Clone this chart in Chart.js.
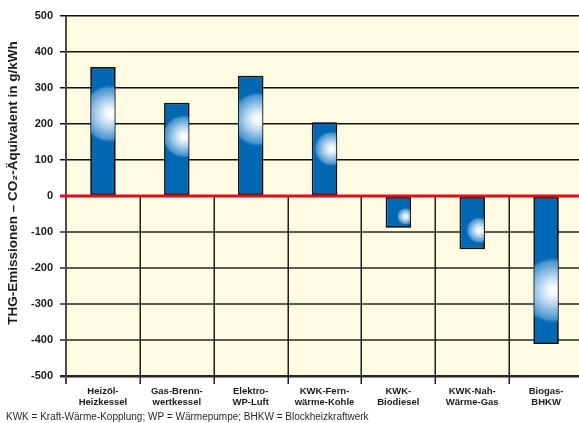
<!DOCTYPE html>
<html lang="de">
<head>
<meta charset="utf-8">
<title>THG-Emissionen verschiedener Heizsysteme</title>
<script src="https://cdn.jsdelivr.net/npm/chart.js@4/dist/chart.umd.min.js"></script>
<style>
  html, body { margin: 0; padding: 0; background: #ffffff; overflow: hidden; }
  #wrap { position: relative; width: 583px; height: 423px; }
</style>
</head>
<body>
<div id="wrap"><canvas id="chart"></canvas></div>
<script>
// Heating systems (two-line category labels)
const categories = [
  ['Heizöl-', 'Heizkessel'],
  ['Gas-Brenn-', 'wertkessel'],
  ['Elektro-', 'WP-Luft'],
  ['KWK-Fern-', 'wärme-Kohle'],
  ['KWK-', 'Biodiesel'],
  ['KWK-Nah-', 'Wärme-Gas'],
  ['Biogas-', 'BHKW']
];

// Greenhouse gas emissions, CO2 equivalent in g/kWh
const emissions = [358, 259, 334, 205, -88, -148, -411];

// Value axis range and step
const yMin = -500;
const yMax = 500;
const yStep = 100;

const axisTitle = 'THG-Emissionen – CO₂-Äquivalent in g/kWh';
const footnote = 'KWK = Kraft-Wärme-Kopplung; WP = Wärmepumpe; BHKW = Blockheizkraftwerk';

const FONT = '"Liberation Sans", Arial, Helvetica, sans-serif';
const BAR_BLUE = '#0067b2';
const PLOT_BG = '#fefbe2';
const ZERO_RED = '#e30a1c';

// Cream plot background and category separators (lower half only)
const plotFrame = {
  id: 'plotFrame',
  beforeDraw(chart) {
    const { ctx, chartArea: a } = chart;
    ctx.save();
    ctx.fillStyle = PLOT_BG;
    ctx.fillRect(a.left, a.top, a.right - a.left, a.bottom - a.top);
    ctx.restore();
  },
  beforeDatasetsDraw(chart) {
    const { ctx, chartArea: a, scales } = chart;
    const xs = scales.x, ys = scales.y;
    const y0 = ys.getPixelForValue(0);
    ctx.save();
    ctx.lineWidth = 1.5;
    ctx.strokeStyle = '#1e1e1e';
    for (let i = 1; i < categories.length; i++) {
      const x = Math.round(xs.getPixelForValue(i - 0.5)) + 0.25;
      ctx.beginPath();
      ctx.moveTo(x, y0);
      ctx.lineTo(x, a.bottom + 8);
      ctx.stroke();
    }
    // left axis line
    ctx.strokeStyle = '#4a4a44';
    ctx.lineWidth = 2;
    const xl = a.left;
    ctx.beginPath();
    ctx.moveTo(xl, a.top);
    ctx.lineTo(xl, a.bottom + 8);
    ctx.stroke();
    ctx.restore();
  }
};

// Drop shadow behind the bars
const barShadow = {
  id: 'barShadow',
  beforeDatasetDraw(chart) {
    const ctx = chart.ctx;
    ctx.save();
    ctx.shadowColor = 'rgba(0,0,0,0.35)';
    ctx.shadowOffsetX = 2;
    ctx.shadowOffsetY = 0;
    ctx.shadowBlur = 1.5;
  },
  afterDatasetDraw(chart) {
    chart.ctx.restore();
  }
};

// Soft radial highlight inside each bar, then the red zero line on top
const barGlow = {
  id: 'barGlow',
  afterDatasetsDraw(chart) {
    const { ctx, chartArea: a, scales } = chart;
    const meta = chart.getDatasetMeta(0);
    meta.data.forEach((bar) => {
      const p = bar.getProps(['x', 'y', 'base', 'width'], true);
      const left = p.x - p.width / 2;
      const top = Math.min(p.y, p.base);
      const len = Math.abs(p.base - p.y);
      const cx = p.x + p.width * 0.28;
      const cy = p.base + (p.y - p.base) * 0.635;
      const r = len * 0.22 + 2;
      ctx.save();
      ctx.beginPath();
      ctx.rect(left + 1, top + 1, p.width - 2, len - 2);
      ctx.clip();
      const g = ctx.createRadialGradient(cx, cy, 0, cx, cy, r);
      g.addColorStop(0, 'rgba(255,255,255,1)');
      g.addColorStop(0.18, 'rgba(236,244,252,1)');
      g.addColorStop(0.5, 'rgba(170,206,236,0.95)');
      g.addColorStop(0.85, 'rgba(90,160,214,0.8)');
      g.addColorStop(1, 'rgba(0,103,178,0)');
      ctx.fillStyle = g;
      ctx.fillRect(cx - r, cy - r, 2 * r, 2 * r);
      ctx.restore();
    });
    // zero line
    const y0 = scales.y.getPixelForValue(0);
    ctx.save();
    ctx.strokeStyle = ZERO_RED;
    ctx.lineWidth = 3;
    ctx.beginPath();
    ctx.moveTo(a.left - 6, y0);
    ctx.lineTo(a.right, y0);
    ctx.stroke();
    ctx.restore();
  }
};

// Rotated value-axis title and the footnote
const texts = {
  id: 'texts',
  afterDraw(chart) {
    const { ctx } = chart;
    ctx.save();
    ctx.fillStyle = '#1a1a1a';
    ctx.font = 'bold 13.5px ' + FONT;
    ctx.textAlign = 'center';
    ctx.textBaseline = 'middle';
    ctx.translate(13, 183);
    ctx.rotate(-Math.PI / 2);
    ctx.fillText(axisTitle, 0, 0);
    ctx.restore();

    ctx.save();
    ctx.fillStyle = '#2a2a2a';
    ctx.font = '10px ' + FONT;
    ctx.textAlign = 'left';
    ctx.textBaseline = 'middle';
    ctx.fillText(footnote, 6, 417);
    ctx.restore();
  }
};

new Chart(document.getElementById('chart'), {
  type: 'bar',
  data: {
    labels: categories,
    datasets: [{
      data: emissions,
      backgroundColor: BAR_BLUE,
      borderColor: '#101418',
      borderWidth: 1.75,
      borderSkipped: false,
      categoryPercentage: 1,
      barPercentage: 0.345
    }]
  },
  options: {
    responsive: true,
    maintainAspectRatio: false,
    devicePixelRatio: 1,
    animation: false,
    layout: { padding: { top: 16, left: 0, right: 0, bottom: 0 } },
    plugins: {
      legend: { display: false },
      tooltip: { enabled: false }
    },
    scales: {
      x: {
        type: 'category',
        offset: true,
        grid: { display: false, drawTicks: false },
        border: { display: false },
        ticks: {
          color: '#1a1a1a',
          font: { family: FONT, size: 9.5, weight: 'bold', lineHeight: 1.15 },
          padding: 10,
          maxRotation: 0,
          autoSkip: false
        },
        afterFit(scale) { scale.height = 47; }
      },
      y: {
        min: yMin,
        max: yMax,
        border: { display: false },
        grid: {
          tickLength: 6,
          color(ctx) {
            const v = ctx.tick ? ctx.tick.value : 1;
            if (v === 0) return 'rgba(0,0,0,0)';
            if (v === yMin) return '#262622';
            return v > 0 ? '#111111' : '#5c5b54';
          },
          lineWidth(ctx) {
            const v = ctx.tick ? ctx.tick.value : 1;
            if (v === yMin) return 2.5;
            return v > 0 ? 1.5 : 2;
          }
        },
        ticks: {
          stepSize: yStep,
          color: '#1a1a1a',
          font: { family: FONT, size: 11, weight: 'bold' },
          padding: 7
        },
        afterFit(scale) { scale.width = 66; }
      }
    }
  },
  plugins: [plotFrame, barShadow, barGlow, texts]
});
</script>
</body>
</html>
